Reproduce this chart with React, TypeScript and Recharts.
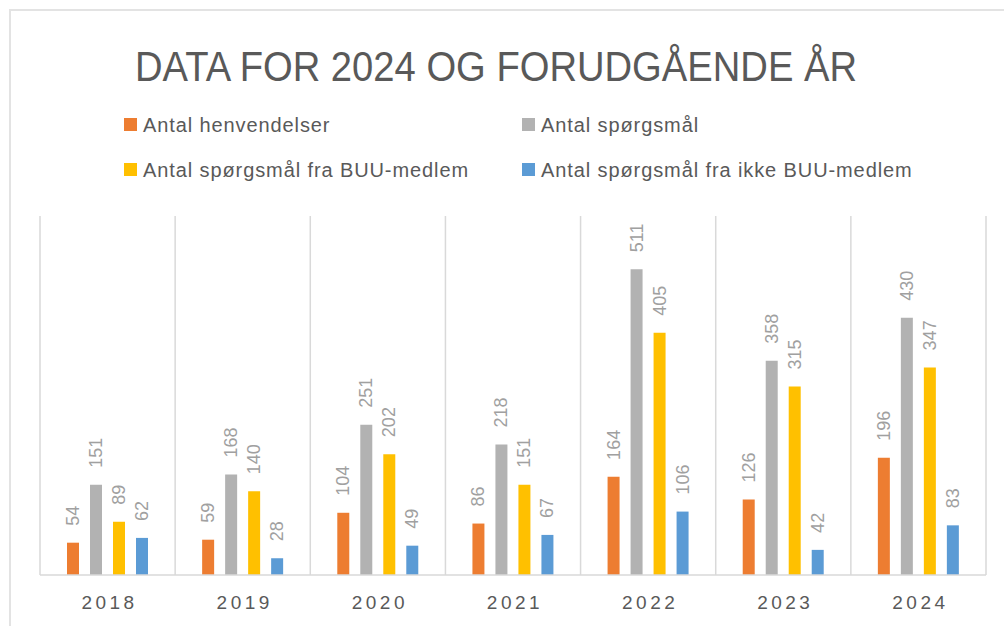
import React from 'react';
import { BarChart, Bar, XAxis, YAxis, CartesianGrid, Legend, LabelList } from 'recharts';

const years = ['2018', '2019', '2020', '2021', '2022', '2023', '2024'];
const henvendelser = [54, 59, 104, 86, 164, 126, 196];
const spoergsmaal = [151, 168, 251, 218, 511, 358, 430];
const fraBUU = [89, 140, 202, 151, 405, 315, 347];
const ikkeBUU = [62, 28, 49, 67, 106, 42, 83];

const seriesNames = [
  'Antal henvendelser',
  'Antal spørgsmål',
  'Antal spørgsmål fra BUU-medlem',
  'Antal spørgsmål fra ikke BUU-medlem',
];
const seriesColors = ['#ED7D31', '#B2B2B2', '#FFC000', '#5B9BD5'];
const titleText = 'DATA FOR 2024 OG FORUDGÅENDE ÅR';

const data = years.map((y, i) => ({
  year: y,
  s0: henvendelser[i],
  s1: spoergsmaal[i],
  s2: fraBUU[i],
  s3: ikkeBUU[i],
}));

const FONT = '"Liberation Sans", Arial, sans-serif';

const RotLabel = (props: any) => {
  const { x, y, width, value } = props;
  const cx = x + width / 2;
  const cy = y - 17;
  return (
    <text
      x={cx}
      y={cy}
      transform={`rotate(-90 ${cx} ${cy})`}
      textAnchor="start"
      dominantBaseline="central"
      fontFamily={FONT}
      fontSize={18}
      fill="#A0A0A0"
    >
      {value}
    </text>
  );
};

const YearTick = (props: any) => {
  const { x, payload } = props;
  return (
    <text
      x={x + 2}
      y={609}
      textAnchor="middle"
      fontFamily={FONT}
      fontSize={19}
      letterSpacing={3.5}
      fill="#595959"
    >
      {payload.value}
    </text>
  );
};

const LegendContent = (props: any) => {
  const payload = props.payload || [];
  return (
    <div style={{ position: 'relative', width: 0, height: 0 }}>
      <svg width={1004} height={200} style={{ position: 'absolute', left: 0, top: 0, display: 'block', overflow: 'visible' }}>
        {payload.map((p: any, i: number) => {
          const col = i % 2;
          const row = Math.floor(i / 2);
          const sx = col === 0 ? 124 : 522;
          const sy = row === 0 ? 118 : 163;
          return (
            <g key={i}>
              <rect x={sx} y={sy} width={13} height={13} fill={p.color} />
              <text
                x={sx + 19}
                y={sy + 13.5}
                fontFamily={FONT}
                fontSize={20}
                letterSpacing={0.9}
                fill="#595959"
              >
                {p.value}
              </text>
            </g>
          );
        })}
      </svg>
    </div>
  );
};

export default function App() {
  return (
    <div style={{ position: 'absolute', left: 0, top: 0, width: 1004, height: 626, overflow: 'hidden', background: '#fff' }}>
      <div
        style={{
          position: 'absolute',
          left: 9,
          top: 9,
          width: 1100,
          height: 700,
          borderTop: '2px solid #E3E3E3',
          borderLeft: '2px solid #E3E3E3',
        }}
      />
      <svg width={1004} height={110} style={{ position: 'absolute', left: 0, top: 0 }}>
        <text
          x={496}
          y={81}
          textAnchor="middle"
          fontFamily={FONT}
          fontSize={43}
          textLength={722}
          lengthAdjust="spacingAndGlyphs"
          fill="#595959"
        >
          {titleText}
        </text>
      </svg>
      <div style={{ position: 'absolute', left: 0, top: 0 }}>
        <BarChart
          width={1004}
          height={626}
          data={data}
          margin={{ top: 216, right: 18, left: 40, bottom: 11 }}
          barSize={12}
          barGap={11}
        >
          <CartesianGrid
            horizontal={false}
            stroke="#D9D9D9"
            strokeWidth={1.5}
            verticalCoordinatesGenerator={({ offset }: any) =>
              Array.from({ length: years.length + 1 }, (_, i) => offset.left + (i * offset.width) / years.length)
            }
          />
          <XAxis
            dataKey="year"
            height={40}
            tickLine={false}
            axisLine={{ stroke: '#D9D9D9', strokeWidth: 1.5 }}
            tick={<YearTick />}
            interval={0}
          />
          <YAxis hide width={0} domain={[0, 600]} />
          <Legend
            verticalAlign="top"
            content={<LegendContent />}
            wrapperStyle={{ position: 'absolute', left: 0, top: 0, width: 0, height: 0, overflow: 'visible' }}
          />
          {[0, 1, 2, 3].map((k) => (
            <Bar
              key={k}
              dataKey={`s${k}`}
              name={seriesNames[k]}
              fill={seriesColors[k]}
              isAnimationActive={false}
            >
              <LabelList dataKey={`s${k}`} content={<RotLabel />} />
            </Bar>
          ))}
        </BarChart>
      </div>
    </div>
  );
}
